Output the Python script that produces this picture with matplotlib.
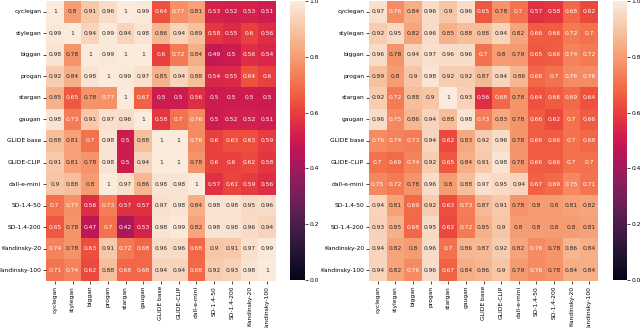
import matplotlib
matplotlib.use("Agg")
import matplotlib.pyplot as plt
import numpy as np
import seaborn as sns

LABELS = ["cyclegan", "stylegan", "biggan", "progan", "stargan", "gaugan",
          "GLIDE base", "GLIDE-CLIP", "dall-e-mini", "SD-1.4-50", "SD-1.4-200",
          "Kandinsky-20", "Kandinsky-100"]

# left heatmap
left_vals = [
    [1, 0.8, 0.91, 0.96, 1, 0.99, 0.64, 0.77, 0.81, 0.53, 0.52, 0.53, 0.51],
    [0.99, 1, 0.94, 0.99, 0.94, 0.98, 0.86, 0.94, 0.89, 0.58, 0.55, 0.6, 0.56],
    [0.98, 0.78, 1, 0.99, 1, 1, 0.6, 0.72, 0.84, 0.49, 0.5, 0.56, 0.54],
    [0.92, 0.84, 0.98, 1, 0.99, 0.97, 0.85, 0.94, 0.88, 0.54, 0.55, 0.64, 0.6],
    [0.85, 0.65, 0.78, 0.77, 1, 0.67, 0.5, 0.5, 0.56, 0.5, 0.5, 0.5, 0.5],
    [0.98, 0.73, 0.91, 0.97, 0.96, 1, 0.58, 0.7, 0.76, 0.5, 0.52, 0.52, 0.51],
    [0.88, 0.81, 0.7, 0.98, 0.5, 0.88, 1, 1, 0.76, 0.6, 0.63, 0.63, 0.59],
    [0.91, 0.81, 0.78, 0.98, 0.5, 0.94, 1, 1, 0.78, 0.6, 0.6, 0.62, 0.58],
    [0.9, 0.88, 0.8, 1, 0.97, 0.86, 0.98, 0.98, 1, 0.57, 0.61, 0.59, 0.56],
    [0.7, 0.77, 0.56, 0.73, 0.57, 0.57, 0.97, 0.98, 0.84, 0.98, 0.98, 0.95, 0.96],
    [0.65, 0.78, 0.47, 0.7, 0.42, 0.53, 0.98, 0.99, 0.82, 0.98, 0.98, 0.96, 0.94],
    [0.74, 0.78, 0.63, 0.91, 0.72, 0.68, 0.96, 0.96, 0.68, 0.9, 0.91, 0.97, 0.99],
    [0.71, 0.74, 0.62, 0.88, 0.68, 0.68, 0.94, 0.94, 0.68, 0.92, 0.93, 0.98, 1],
]

# right heatmap
right_vals = [
    [0.97, 0.76, 0.84, 0.96, 0.9, 0.96, 0.65, 0.78, 0.7, 0.57, 0.58, 0.68, 0.62],
    [0.92, 0.95, 0.82, 0.96, 0.85, 0.88, 0.88, 0.94, 0.82, 0.66, 0.66, 0.72, 0.7],
    [0.96, 0.78, 0.94, 0.97, 0.96, 0.96, 0.7, 0.8, 0.79, 0.65, 0.66, 0.74, 0.72],
    [0.89, 0.8, 0.9, 0.98, 0.92, 0.92, 0.87, 0.94, 0.86, 0.68, 0.7, 0.76, 0.76],
    [0.92, 0.72, 0.88, 0.9, 1, 0.93, 0.56, 0.68, 0.78, 0.64, 0.66, 0.69, 0.64],
    [0.96, 0.75, 0.86, 0.94, 0.88, 0.98, 0.73, 0.83, 0.78, 0.66, 0.62, 0.7, 0.66],
    [0.76, 0.74, 0.73, 0.94, 0.62, 0.83, 0.92, 0.96, 0.78, 0.66, 0.66, 0.7, 0.68],
    [0.7, 0.69, 0.74, 0.92, 0.65, 0.84, 0.91, 0.98, 0.78, 0.66, 0.66, 0.7, 0.7],
    [0.75, 0.72, 0.78, 0.96, 0.8, 0.88, 0.97, 0.95, 0.94, 0.67, 0.69, 0.75, 0.71],
    [0.94, 0.81, 0.69, 0.92, 0.63, 0.73, 0.87, 0.91, 0.78, 0.8, 0.8, 0.81, 0.82],
    [0.93, 0.85, 0.68, 0.95, 0.62, 0.72, 0.85, 0.9, 0.8, 0.8, 0.8, 0.8, 0.81],
    [0.94, 0.82, 0.8, 0.96, 0.7, 0.86, 0.87, 0.92, 0.82, 0.76, 0.78, 0.86, 0.84],
    [0.94, 0.82, 0.76, 0.96, 0.67, 0.84, 0.86, 0.9, 0.79, 0.76, 0.78, 0.84, 0.84],
]

W, H = 640, 328
fig = plt.figure(figsize=(W / 100, H / 100), dpi=100)


def px(x0, y0, x1, y1):
    # pixel box (top-left origin) -> figure fraction
    return [x0 / W, 1 - y1 / H, (x1 - x0) / W, (y1 - y0) / H]


def draw(vals, box, cbox):
    ax = fig.add_axes(px(*box))
    cax = fig.add_axes(px(*cbox))
    sns.heatmap(np.array(vals), ax=ax, cbar_ax=cax, cmap="rocket", vmin=0, vmax=1,
                annot=True, fmt="g", annot_kws={"fontsize": 4.3},
                xticklabels=LABELS, yticklabels=LABELS)
    ax.tick_params(labelsize=4.3, length=2, width=0.5, pad=1.5)
    ax.set_xticklabels(LABELS, rotation=90)
    ax.set_yticklabels(LABELS, rotation=0)
    cax.tick_params(labelsize=4.3, length=2, width=0.5, pad=1)
    cax.set_yticks([0.0, 0.2, 0.4, 0.6, 0.8, 1.0])
    cax.set_yticklabels(["0.0", "0.2", "0.4", "0.6", "0.8", "1.0"])
    for s in cax.spines.values():
        s.set_visible(False)


draw(left_vals, (46, 1, 276, 281), (290, 1, 305, 280))
draw(right_vals, (369, 1, 598, 281), (613, 1, 627, 280))

fig.savefig("out.png", dpi=100)
